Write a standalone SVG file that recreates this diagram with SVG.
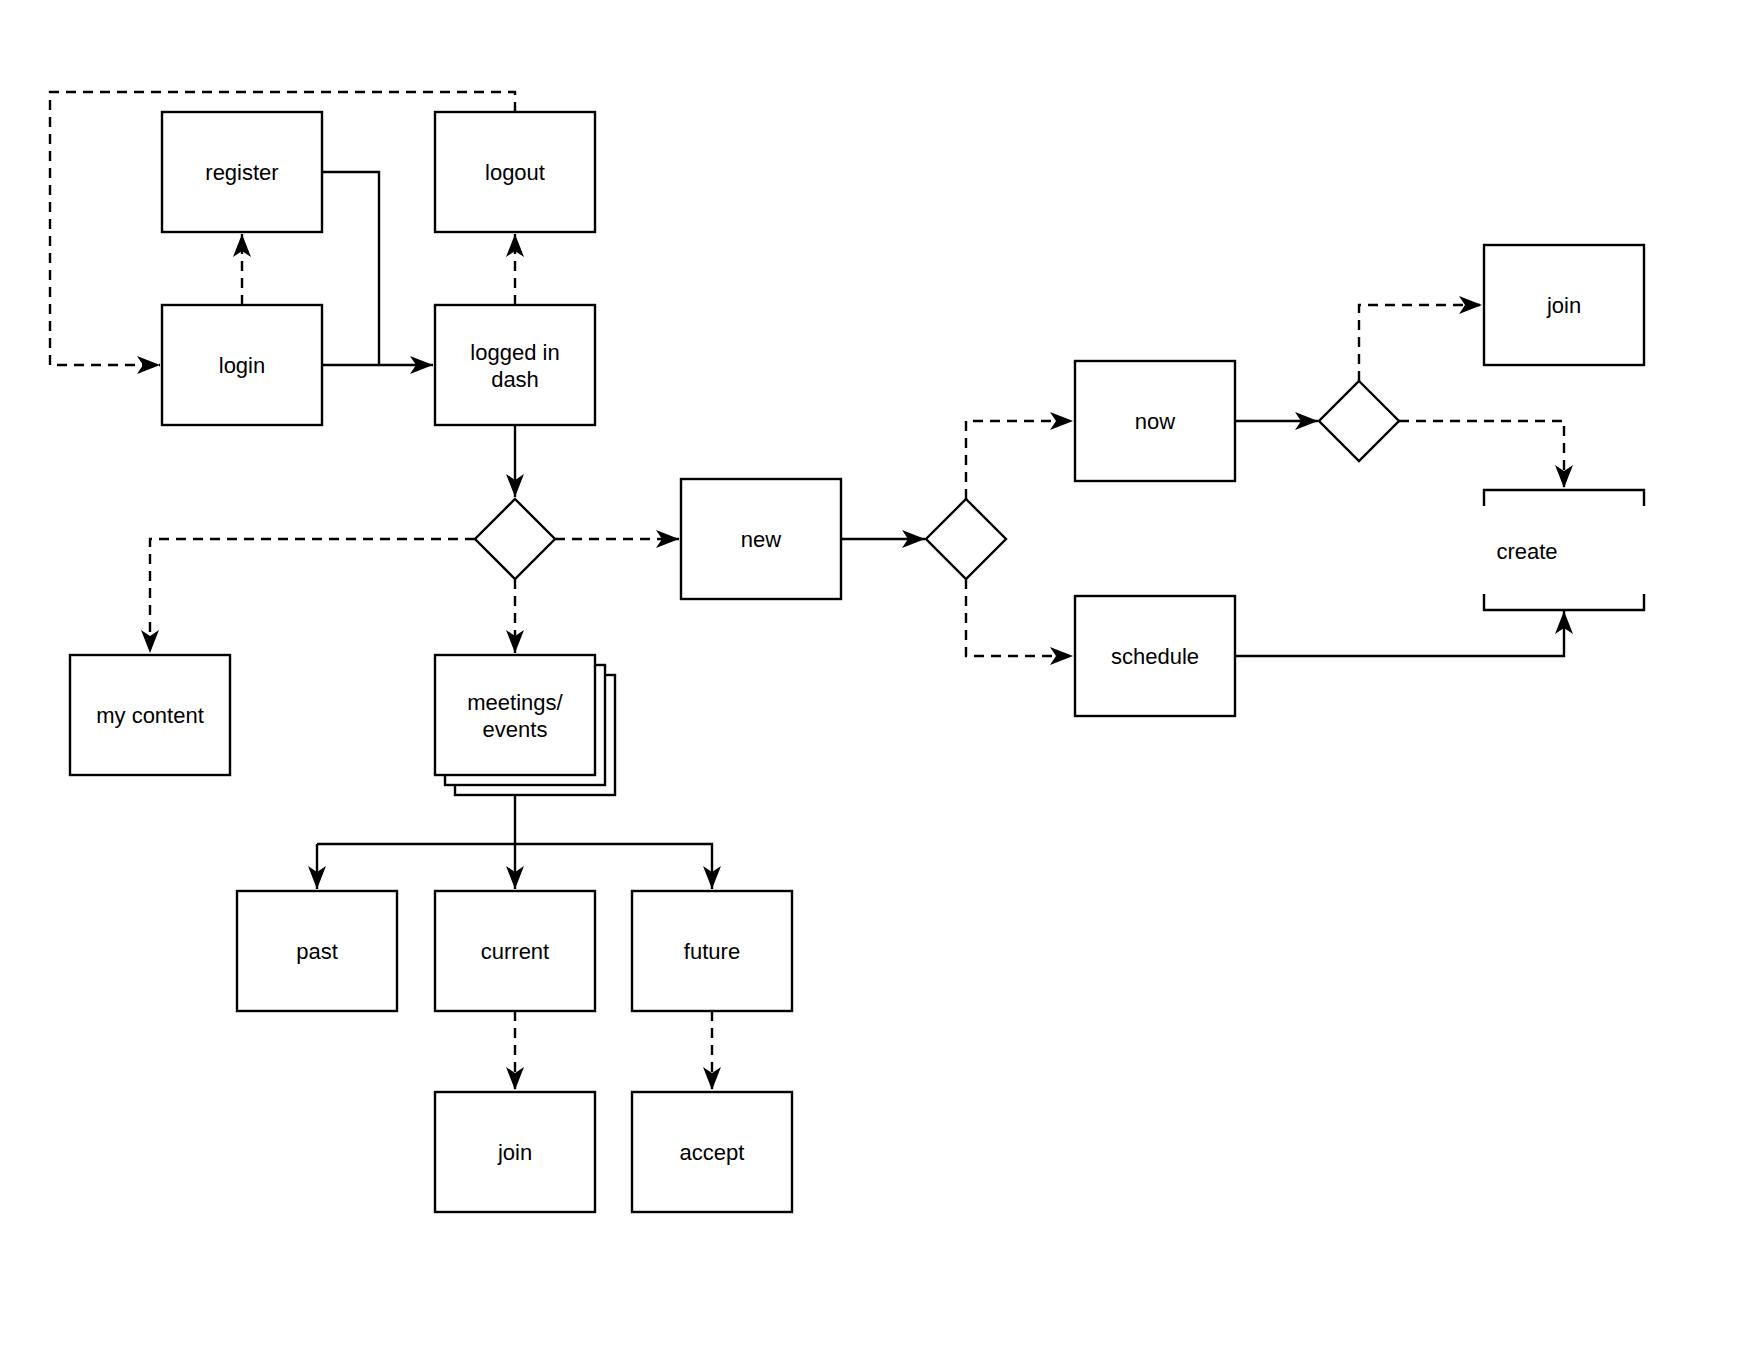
<svg xmlns="http://www.w3.org/2000/svg" width="1760" height="1360" viewBox="0 0 1760 1360">
<defs>
<marker id="arr" markerUnits="userSpaceOnUse" markerWidth="26" markerHeight="20" refX="23" refY="9" orient="auto">
<path d="M0,0 L23,9 L0,18 L6,9 Z" fill="#000"/>
</marker>
</defs>
<style>
.box{fill:#fff;stroke:#000;stroke-width:2.4}
.dia{fill:#fff;stroke:#000;stroke-width:2.4}
.lbl{font-family:"Liberation Sans",Arial,sans-serif;font-size:22px;fill:#000;text-anchor:middle}
.ln{fill:none;stroke:#000;stroke-width:2.4}
.ar{fill:none;stroke:#000;stroke-width:2.4;marker-end:url(#arr)}
.da{fill:none;stroke:#000;stroke-width:2.4;stroke-dasharray:10 7;marker-end:url(#arr)}
</style>
<rect width="1760" height="1360" fill="#fff"/>
<g id="connectors">
<path class="da" d="M515,112 V92 H50 V365 H160"/>
<path class="da" d="M242,305 V234"/>
<path class="da" d="M515,305 V234"/>
<path class="ln" d="M322,172 H379 V365"/>
<path class="ar" d="M322,365 H433"/>
<path class="ar" d="M515,425 V497"/>
<path class="da" d="M475,539 H150 V653"/>
<path class="da" d="M555,539 H679"/>
<path class="da" d="M515,579 V653"/>
<path class="ln" d="M515,795 V844"/>
<path class="ar" d="M515,844 V889"/>
<path class="ar" d="M317,844 H712 V889"/>
<path class="ar" d="M317,844 V889"/>
<path class="da" d="M515,1011 V1090"/>
<path class="da" d="M712,1011 V1090"/>
<path class="ar" d="M841,539 H925"/>
<path class="da" d="M966,499 V421 H1073"/>
<path class="da" d="M966,579 V656 H1073"/>
<path class="ar" d="M1236,421 H1318"/>
<path class="da" d="M1359,381 V305 H1482"/>
<path class="da" d="M1399,421 H1564 V488"/>
<path class="ar" d="M1236,656 H1564 V611"/>
</g>
<g id="register"><rect class="box" x="162" y="112" width="160" height="120"/><text class="lbl" x="242" y="172" dy="0.35em">register</text></g>
<g id="logout"><rect class="box" x="435" y="112" width="160" height="120"/><text class="lbl" x="515" y="172" dy="0.35em">logout</text></g>
<g id="login"><rect class="box" x="162" y="305" width="160" height="120"/><text class="lbl" x="242" y="365" dy="0.35em">login</text></g>
<g id="logged-in-dash"><rect class="box" x="435" y="305" width="160" height="120"/><text class="lbl" x="515" y="352" dy="0.35em">logged in</text><text class="lbl" x="515" y="379" dy="0.35em">dash</text></g>
<g id="decision1"><polygon class="dia" points="515,499 555,539 515,579 475,539"/></g>
<g id="new"><rect class="box" x="681" y="479" width="160" height="120"/><text class="lbl" x="761" y="539" dy="0.35em">new</text></g>
<g id="my-content"><rect class="box" x="70" y="655" width="160" height="120"/><text class="lbl" x="150" y="715" dy="0.35em">my content</text></g>
<g id="meetings-events">
<rect class="box" x="455" y="675" width="160" height="120"/>
<rect class="box" x="445" y="665" width="160" height="120"/>
<rect class="box" x="435" y="655" width="160" height="120"/>
<text class="lbl" x="515" y="702" dy="0.35em">meetings/</text><text class="lbl" x="515" y="729" dy="0.35em">events</text></g>
<g id="past"><rect class="box" x="237" y="891" width="160" height="120"/><text class="lbl" x="317" y="951" dy="0.35em">past</text></g>
<g id="current"><rect class="box" x="435" y="891" width="160" height="120"/><text class="lbl" x="515" y="951" dy="0.35em">current</text></g>
<g id="future"><rect class="box" x="632" y="891" width="160" height="120"/><text class="lbl" x="712" y="951" dy="0.35em">future</text></g>
<g id="join-bottom"><rect class="box" x="435" y="1092" width="160" height="120"/><text class="lbl" x="515" y="1152" dy="0.35em">join</text></g>
<g id="accept"><rect class="box" x="632" y="1092" width="160" height="120"/><text class="lbl" x="712" y="1152" dy="0.35em">accept</text></g>
<g id="decision2"><polygon class="dia" points="966,499 1006,539 966,579 926,539"/></g>
<g id="now"><rect class="box" x="1075" y="361" width="160" height="120"/><text class="lbl" x="1155" y="421" dy="0.35em">now</text></g>
<g id="schedule"><rect class="box" x="1075" y="596" width="160" height="120"/><text class="lbl" x="1155" y="656" dy="0.35em">schedule</text></g>
<g id="decision3"><polygon class="dia" points="1359,381 1399,421 1359,461 1319,421"/></g>
<g id="join-top"><rect class="box" x="1484" y="245" width="160" height="120"/><text class="lbl" x="1564" y="305" dy="0.35em">join</text></g>
<g id="create">
<path class="ln" d="M1484,506 V490 H1644 V506"/>
<path class="ln" d="M1484,594 V610 H1644 V594"/>
<text class="lbl" x="1527" y="551" dy="0.35em">create</text></g>
</svg>
